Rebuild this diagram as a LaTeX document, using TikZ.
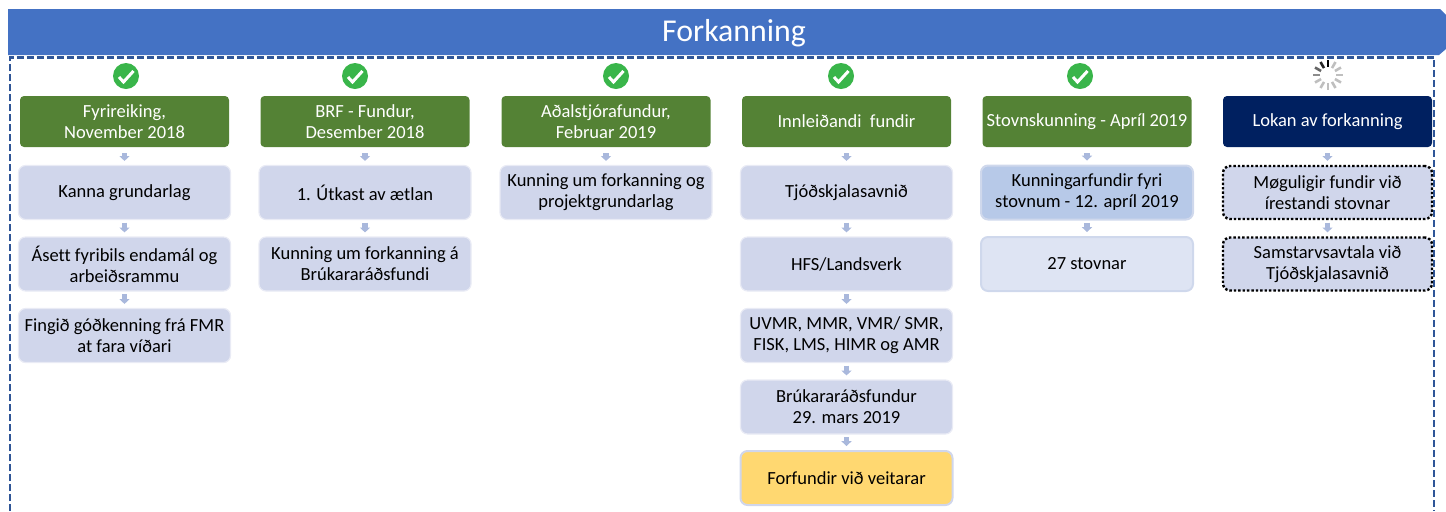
\documentclass[tikz,border=0pt]{standalone}
\usepackage{fontspec}
\setmainfont[Ligatures=NoCommon]{Carlito}
\usetikzlibrary{arrows.meta}
\definecolor{banner}{HTML}{4472C4}
\definecolor{frameblue}{HTML}{2F5597}
\definecolor{headgreen}{HTML}{548235}
\definecolor{headnavy}{HTML}{002060}
\definecolor{stepfill}{HTML}{D0D6EB}
\definecolor{stepline}{HTML}{E9EBF5}
\definecolor{flowblue}{HTML}{A9B8DC}
\definecolor{okgreen}{HTML}{39B54A}
\definecolor{startfill}{HTML}{B7C9E8}
\definecolor{paleline}{HTML}{CFD8EC}
\definecolor{palefill}{HTML}{DEE4F3}
\definecolor{meetfill}{HTML}{FFD871}
\tikzset{
  boxtext/.style={align=center,inner sep=0pt,font=\fontsize{9.25}{10.5}\selectfont},
  headbox/.style={boxtext,rounded corners=2pt,fill=headgreen,text=white,minimum width=104.5pt,minimum height=25.5pt},
  stepbox/.style={boxtext,rounded corners=3.5pt,fill=stepfill,draw=stepline,line width=.6pt,minimum width=106pt,minimum height=27pt},
  waitbox/.style={stepbox,draw=black,line width=1.2pt,dash pattern=on 1.2pt off 1pt,minimum width=104.5pt,minimum height=26.5pt},
  flowarrow/.style={draw=flowblue,line width=2.8pt,shorten >=2pt,shorten <=1.2pt,-{Triangle[length=2.4pt,width=5pt]}},
  headarrow/.style={flowarrow,shorten <=3pt},
  okcircle/.style={circle,fill=okgreen,inner sep=0pt,minimum size=13pt},
  okmark/.style={draw=white,line width=1.5pt},
}
\begin{document}
\begin{tikzpicture}[x=.5pt,y=-.5pt]
  \useasboundingbox (0,0) rectangle (1446,511);
  \fill[banner] (8,9) -- (1440,9) -- (1446,15) -- (1446,49) -- (1439,55) -- (8,55) -- cycle;
  \node[text=white,inner sep=0pt,font=\fontsize{15.9}{18}\selectfont] (title) at (734,33) {Forkanning};
  \draw[frameblue,line width=1.1pt,dash pattern=on 3.5pt off 1.5pt] (10,511) -- (10,57.5) -- (1434,57.5) -- (1434,511);
  % status marks
  \foreach \col/\x in {1/126,2/355,3/616,4/841,5/1080} {
    \node[okcircle] (ok\col) at (\x,76) {};
    \draw[okmark] ([shift={(-7,1)}]ok\col.center) -- ++(4.5,5) -- ++(10,-11);
  }
  \node[inner sep=0pt,minimum size=14pt] (spin) at (1328,75) {};
  \foreach \a/\shade in {270/100,240/85,210/60,180/45,150/25,120/25,90/25,60/25,30/25,0/25,330/25,300/25}
    \draw[black!\shade,line width=1.3pt] ([shift={(\a:8)}]spin.center) -- ([shift={(\a:15)}]spin.center);
  % headers
  \node[headbox] (h1) at (124.5,121.5) {Fyrireiking,\\November 2018};
  \node[headbox] (h2) at (365,121.5) {BRF - Fundur,\\Desember 2018};
  \node[headbox] (h3) at (606,121.5) {Aðalstjórafundur,\\Februar 2019};
  \node[headbox] (h4) at (846.5,121.5) {Innleiðandi\ \ fundir};
  \node[headbox] (h5) at (1087,121.5) {Stovnskunning - Apríl 2019};
  \node[headbox,fill=headnavy] (h6) at (1327.5,121.5) {Lokan av forkanning};
  % first column
  \node[stepbox] (a1) at (124.5,192.5) {Kanna grundarlag};
  \node[stepbox] (a2) at (124.5,264) {Ásett fyribils endamál og\\arbeiðsrammu};
  \node[stepbox] (a3) at (124.5,335.5) {Fingið góðkenning frá FMR\\at fara víðari};
  \draw[headarrow] (h1) -- (a1);
  \draw[flowarrow] (a1) -- (a2);
  \draw[flowarrow] (a2) -- (a3);
  % second column
  \node[stepbox] (b1) at (365,192.5) {1. Útkast av ætlan};
  \node[stepbox] (b2) at (365,264) {Kunning um forkanning á\\Brúkararáðsfundi};
  \draw[headarrow] (h2) -- (b1);
  \draw[flowarrow] (b1) -- (b2);
  % third column
  \node[stepbox] (c1) at (606,192.5) {Kunning um forkanning og\\projektgrundarlag};
  \draw[headarrow] (h3) -- (c1);
  % fourth column
  \node[stepbox] (d1) at (846.5,192.5) {Tjóðskjalasavnið};
  \node[stepbox] (d2) at (846.5,264) {HFS/Landsverk};
  \node[stepbox] (d3) at (846.5,335.5) {UVMR, MMR, VMR/ SMR,\\FISK, LMS, HIMR og AMR};
  \node[stepbox] (d4) at (846.5,407) {Brúkararáðsfundur\\29. mars 2019};
  \node[stepbox,fill=meetfill,draw=stepfill,line width=1pt] (d5) at (846.5,478) {Forfundir við veitarar};
  \draw[headarrow] (h4) -- (d1);
  \draw[flowarrow] (d1) -- (d2);
  \draw[flowarrow] (d2) -- (d3);
  \draw[flowarrow] (d3) -- (d4);
  \draw[flowarrow] (d4) -- (d5);
  % fifth column
  \node[stepbox,fill=startfill,draw=paleline,line width=1pt] (e1) at (1087,192.5) {Kunningarfundir fyri\\stovnum - 12. apríl 2019};
  \node[stepbox,fill=palefill,draw=paleline,line width=1pt] (e2) at (1087,264) {27 stovnar};
  \draw[headarrow] (h5) -- (e1);
  \draw[flowarrow] (e1) -- (e2);
  % sixth column
  \node[waitbox] (f1) at (1327.5,192.5) {Møguligir fundir við\\írestandi stovnar};
  \node[waitbox] (f2) at (1327.5,264) {Samstarvsavtala við\\Tjóðskjalasavnið};
  \draw[headarrow] (h6) -- (f1);
  \draw[flowarrow] (f1) -- (f2);
\end{tikzpicture}
\end{document}
